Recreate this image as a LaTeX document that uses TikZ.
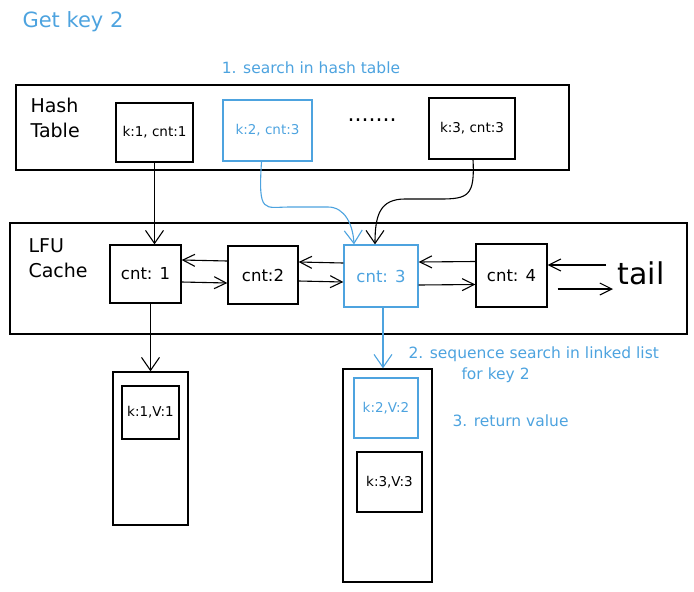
\documentclass[tikz,border=0pt]{standalone}
\usepackage{fontspec}
\setmainfont{DejaVu Sans}
\usetikzlibrary{arrows.meta,calc}
\definecolor{hblue}{RGB}{77,163,223}
\tikzset{
  box/.style={draw=black,line width=1.3pt,inner sep=0pt},
  bluebox/.style={draw=hblue,line width=1.3pt,text=hblue,inner sep=0pt},
  conn/.style={line width=1.1pt,-{Straight Barb[length=12pt,width=12pt]}},
  vconn/.style={line width=1.1pt,-{Straight Barb[length=13pt,width=18pt]}},
  note/.style={text=hblue,font=\fontsize{15.5}{18}\selectfont},
  lbl/.style={font=\fontsize{13.5}{15}\selectfont},
  cntf/.style={font=\fontsize{16.5}{19}\selectfont},
  big/.style={font=\fontsize{19}{25}\selectfont,align=left,anchor=west}
}
\begin{document}
\begin{tikzpicture}[x=1pt,y=-1pt]
\useasboundingbox (0,0) rectangle (694,592);
% titles
\node[note,anchor=west,font=\fontsize{21}{23}\selectfont] (title) at (19,22) {Get key 2};
\node[note] (n1) at (311,68) {1. search in hash table};
% hash table
\node[box,minimum width=553pt,minimum height=85pt] (ht) at (292.5,127.5) {};
\node[big] (htl) at (27,118) {Hash\\Table};
\node[box,lbl,minimum width=77pt,minimum height=59pt] (hk1) at (154.5,132.5) {k:1, cnt:1};
\node[bluebox,lbl,minimum width=89pt,minimum height=61pt] (hk2) at (267.5,130.5) {k:2, cnt:3};
\node[font=\fontsize{22}{24}\selectfont] (dots) at (372,120) {.......};
\node[box,lbl,minimum width=86pt,minimum height=61pt] (hk3) at (472,128.5) {k:3, cnt:3};
% LFU cache
\node[box,minimum width=677pt,minimum height=111pt] (lfu) at (348.5,278.5) {};
\node[big] (lfl) at (25,258) {LFU\\Cache};
\node[box,cntf,minimum width=71pt,minimum height=58pt] (c1) at (145.5,274) {cnt: 1};
\node[box,cntf,minimum width=70pt,minimum height=58pt] (c2) at (263,275) {cnt:2};
\node[bluebox,cntf,minimum width=74pt,minimum height=62pt] (c3) at (381,276) {cnt: 3};
\node[box,cntf,minimum width=71pt,minimum height=63pt] (c4) at (511.5,275.5) {cnt: 4};
\node[font=\fontsize{30}{32}\selectfont] (tail) at (641,273) {tail};
\coordinate (t1) at (606,265);
\coordinate (t2) at (613,289);
% list arrows
\draw[conn] ([yshift=14pt]c2.west) -- ([yshift=14pt]c1.east);
\draw[conn] ([yshift=-8pt]c1.east) -- ([yshift=-8pt]c2.west);
\draw[conn] ([yshift=13pt]c3.west) -- ([yshift=13pt]c2.east);
\draw[conn] ([yshift=-6pt]c2.east) -- ([yshift=-6pt]c3.west);
\draw[conn] ([yshift=14pt]c4.west) -- ([yshift=14pt]c3.east);
\draw[conn] ([yshift=-9pt]c3.east) -- ([yshift=-9pt]c4.west);
\draw[conn] (t1) -- (t1 -| c4.east);
\draw[conn] (t2 -| c4.east) ++(10,0) -- (t2);
% hash -> cache
\draw[vconn] (hk1.south) -- (hk1.south |- c1.north);
\draw[vconn,hblue] ([xshift=-6pt]hk2.south) .. controls (258,215) and (264,207) .. (290,207) -- (328,207) .. controls (345,207) and (353,225) .. ([xshift=-27pt]c3.north);
\draw[vconn] ([xshift=1pt]hk3.south) .. controls (475,196) and (468,199) .. (440,199) -- (405,199) .. controls (380,199) and (375,215) .. ([xshift=-6pt]c3.north);
% buckets
\node[box,minimum width=75pt,minimum height=153pt] (bl) at (150.5,448.5) {};
\node[box,lbl,minimum width=57pt,minimum height=53pt] (blin) at (150.5,412.5) {k:1,V:1};
\node[box,minimum width=89pt,minimum height=213pt] (br) at (387.5,475.5) {};
\node[bluebox,lbl,minimum width=64pt,minimum height=60pt] (brin1) at (386,408) {k:2,V:2};
\node[box,lbl,minimum width=65pt,minimum height=60pt] (brin2) at (389.5,482) {k:3,V:3};
\draw[vconn] (bl.north |- c1.south) -- (bl.north);
\draw[vconn,hblue] ([xshift=2pt]c3.south) -- ([xshift=2pt]c3.south |- br.north);
% notes
\node[note,anchor=west] (n2) at (405,354) {2. sequence search in linked list};
\node[note,anchor=west] (n2b) at (458,375) {for key 2};
\node[note,anchor=west] (n3) at (449,421) {3. return value};
\end{tikzpicture}
\end{document}
